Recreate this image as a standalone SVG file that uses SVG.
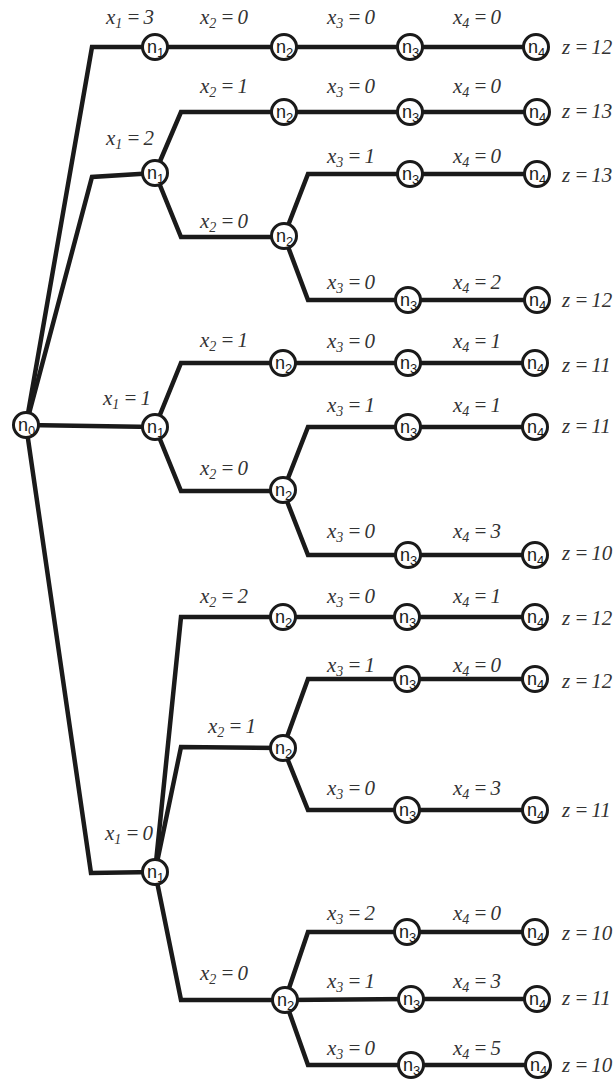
<svg xmlns="http://www.w3.org/2000/svg" width="616" height="1079" viewBox="0 0 616 1079">
<style>
.e{fill:none;stroke:#1a1a1a;stroke-width:4.5;stroke-linejoin:miter}
.n circle{fill:#fff;stroke:#1a1a1a;stroke-width:3}
.n text{font-family:"Liberation Sans",Arial,sans-serif;font-size:18px;fill:#1a1a1a}
.n tspan{font-size:13px}
.l{font-family:"Liberation Serif","DejaVu Serif",serif;font-style:italic;font-size:21px;fill:#333}
.s{font-size:14px}
</style>
<rect width="616" height="1079" fill="#fff"/>
<g id="connectors">
<path class="e" d="M26 425 L92 47 L155 47"/>
<path class="e" d="M26 425 L92 177 L155 173"/>
<path class="e" d="M26 425 L155 427"/>
<path class="e" d="M26 425 L91 873 L155 872"/>
<path class="e" d="M155 47 L284 47"/>
<path class="e" d="M284 47 L410 47"/>
<path class="e" d="M410 47 L536 47"/>
<path class="e" d="M155 173 L181 112 L284 112"/>
<path class="e" d="M155 173 L181 237 L284 237"/>
<path class="e" d="M284 112 L410 112"/>
<path class="e" d="M410 112 L537 112"/>
<path class="e" d="M284 236 L308 174 L410 174"/>
<path class="e" d="M410 174 L537 174"/>
<path class="e" d="M284 236 L308 300 L408 300"/>
<path class="e" d="M408 300 L537 300"/>
<path class="e" d="M155 427 L181 363 L283 363"/>
<path class="e" d="M283 363 L408 363"/>
<path class="e" d="M408 363 L535 363"/>
<path class="e" d="M155 427 L181 491 L283 491"/>
<path class="e" d="M283 491 L308 427 L408 427"/>
<path class="e" d="M408 427 L535 427"/>
<path class="e" d="M283 491 L308 555 L408 555"/>
<path class="e" d="M408 555 L535 555"/>
<path class="e" d="M155 872 L181 617 L283 617"/>
<path class="e" d="M283 617 L407 617"/>
<path class="e" d="M407 617 L535 617"/>
<path class="e" d="M155 872 L181 747 L283 748"/>
<path class="e" d="M283 748 L308 679 L407 679"/>
<path class="e" d="M407 679 L535 679"/>
<path class="e" d="M283 748 L308 810 L407 810"/>
<path class="e" d="M407 810 L535 810"/>
<path class="e" d="M155 872 L181 1000 L285 1000"/>
<path class="e" d="M285 1000 L308 932 L407 932"/>
<path class="e" d="M407 932 L535 932"/>
<path class="e" d="M285 1000 L411 999"/>
<path class="e" d="M411 999 L537 999"/>
<path class="e" d="M285 1000 L308 1065 L411 1065"/>
<path class="e" d="M411 1065 L538 1065"/>
</g>
<g id="labels">
<text class="l" x="106" y="24">x<tspan class="s" dy="4">1</tspan><tspan dy="-4" dx="4">=</tspan><tspan dx="3">3</tspan></text>
<text class="l" x="200" y="24">x<tspan class="s" dy="4">2</tspan><tspan dy="-4" dx="4">=</tspan><tspan dx="3">0</tspan></text>
<text class="l" x="327" y="24">x<tspan class="s" dy="4">3</tspan><tspan dy="-4" dx="4">=</tspan><tspan dx="3">0</tspan></text>
<text class="l" x="453" y="24">x<tspan class="s" dy="4">4</tspan><tspan dy="-4" dx="4">=</tspan><tspan dx="3">0</tspan></text>
<text class="l" x="562" y="54">z<tspan dx="4">=</tspan><tspan dx="3">12</tspan></text>
<text class="l" x="106" y="145">x<tspan class="s" dy="4">1</tspan><tspan dy="-4" dx="4">=</tspan><tspan dx="3">2</tspan></text>
<text class="l" x="200" y="93">x<tspan class="s" dy="4">2</tspan><tspan dy="-4" dx="4">=</tspan><tspan dx="3">1</tspan></text>
<text class="l" x="327" y="93">x<tspan class="s" dy="4">3</tspan><tspan dy="-4" dx="4">=</tspan><tspan dx="3">0</tspan></text>
<text class="l" x="453" y="93">x<tspan class="s" dy="4">4</tspan><tspan dy="-4" dx="4">=</tspan><tspan dx="3">0</tspan></text>
<text class="l" x="562" y="118">z<tspan dx="4">=</tspan><tspan dx="3">13</tspan></text>
<text class="l" x="327" y="163">x<tspan class="s" dy="4">3</tspan><tspan dy="-4" dx="4">=</tspan><tspan dx="3">1</tspan></text>
<text class="l" x="453" y="163">x<tspan class="s" dy="4">4</tspan><tspan dy="-4" dx="4">=</tspan><tspan dx="3">0</tspan></text>
<text class="l" x="562" y="182">z<tspan dx="4">=</tspan><tspan dx="3">13</tspan></text>
<text class="l" x="200" y="228">x<tspan class="s" dy="4">2</tspan><tspan dy="-4" dx="4">=</tspan><tspan dx="3">0</tspan></text>
<text class="l" x="327" y="289">x<tspan class="s" dy="4">3</tspan><tspan dy="-4" dx="4">=</tspan><tspan dx="3">0</tspan></text>
<text class="l" x="453" y="289">x<tspan class="s" dy="4">4</tspan><tspan dy="-4" dx="4">=</tspan><tspan dx="3">2</tspan></text>
<text class="l" x="562" y="307">z<tspan dx="4">=</tspan><tspan dx="3">12</tspan></text>
<text class="l" x="200" y="347">x<tspan class="s" dy="4">2</tspan><tspan dy="-4" dx="4">=</tspan><tspan dx="3">1</tspan></text>
<text class="l" x="103" y="405">x<tspan class="s" dy="4">1</tspan><tspan dy="-4" dx="4">=</tspan><tspan dx="3">1</tspan></text>
<text class="l" x="327" y="348">x<tspan class="s" dy="4">3</tspan><tspan dy="-4" dx="4">=</tspan><tspan dx="3">0</tspan></text>
<text class="l" x="453" y="348">x<tspan class="s" dy="4">4</tspan><tspan dy="-4" dx="4">=</tspan><tspan dx="3">1</tspan></text>
<text class="l" x="562" y="372">z<tspan dx="4">=</tspan><tspan dx="3">11</tspan></text>
<text class="l" x="327" y="412">x<tspan class="s" dy="4">3</tspan><tspan dy="-4" dx="4">=</tspan><tspan dx="3">1</tspan></text>
<text class="l" x="453" y="412">x<tspan class="s" dy="4">4</tspan><tspan dy="-4" dx="4">=</tspan><tspan dx="3">1</tspan></text>
<text class="l" x="562" y="433">z<tspan dx="4">=</tspan><tspan dx="3">11</tspan></text>
<text class="l" x="200" y="475">x<tspan class="s" dy="4">2</tspan><tspan dy="-4" dx="4">=</tspan><tspan dx="3">0</tspan></text>
<text class="l" x="327" y="538">x<tspan class="s" dy="4">3</tspan><tspan dy="-4" dx="4">=</tspan><tspan dx="3">0</tspan></text>
<text class="l" x="453" y="538">x<tspan class="s" dy="4">4</tspan><tspan dy="-4" dx="4">=</tspan><tspan dx="3">3</tspan></text>
<text class="l" x="562" y="560">z<tspan dx="4">=</tspan><tspan dx="3">10</tspan></text>
<text class="l" x="200" y="603">x<tspan class="s" dy="4">2</tspan><tspan dy="-4" dx="4">=</tspan><tspan dx="3">2</tspan></text>
<text class="l" x="327" y="603">x<tspan class="s" dy="4">3</tspan><tspan dy="-4" dx="4">=</tspan><tspan dx="3">0</tspan></text>
<text class="l" x="453" y="603">x<tspan class="s" dy="4">4</tspan><tspan dy="-4" dx="4">=</tspan><tspan dx="3">1</tspan></text>
<text class="l" x="562" y="625">z<tspan dx="4">=</tspan><tspan dx="3">12</tspan></text>
<text class="l" x="327" y="672">x<tspan class="s" dy="4">3</tspan><tspan dy="-4" dx="4">=</tspan><tspan dx="3">1</tspan></text>
<text class="l" x="453" y="672">x<tspan class="s" dy="4">4</tspan><tspan dy="-4" dx="4">=</tspan><tspan dx="3">0</tspan></text>
<text class="l" x="562" y="688">z<tspan dx="4">=</tspan><tspan dx="3">12</tspan></text>
<text class="l" x="208" y="733">x<tspan class="s" dy="4">2</tspan><tspan dy="-4" dx="4">=</tspan><tspan dx="3">1</tspan></text>
<text class="l" x="327" y="795">x<tspan class="s" dy="4">3</tspan><tspan dy="-4" dx="4">=</tspan><tspan dx="3">0</tspan></text>
<text class="l" x="453" y="795">x<tspan class="s" dy="4">4</tspan><tspan dy="-4" dx="4">=</tspan><tspan dx="3">3</tspan></text>
<text class="l" x="562" y="817">z<tspan dx="4">=</tspan><tspan dx="3">11</tspan></text>
<text class="l" x="105" y="840">x<tspan class="s" dy="4">1</tspan><tspan dy="-4" dx="4">=</tspan><tspan dx="3">0</tspan></text>
<text class="l" x="327" y="920">x<tspan class="s" dy="4">3</tspan><tspan dy="-4" dx="4">=</tspan><tspan dx="3">2</tspan></text>
<text class="l" x="453" y="920">x<tspan class="s" dy="4">4</tspan><tspan dy="-4" dx="4">=</tspan><tspan dx="3">0</tspan></text>
<text class="l" x="562" y="940">z<tspan dx="4">=</tspan><tspan dx="3">10</tspan></text>
<text class="l" x="200" y="980">x<tspan class="s" dy="4">2</tspan><tspan dy="-4" dx="4">=</tspan><tspan dx="3">0</tspan></text>
<text class="l" x="327" y="988">x<tspan class="s" dy="4">3</tspan><tspan dy="-4" dx="4">=</tspan><tspan dx="3">1</tspan></text>
<text class="l" x="453" y="988">x<tspan class="s" dy="4">4</tspan><tspan dy="-4" dx="4">=</tspan><tspan dx="3">3</tspan></text>
<text class="l" x="562" y="1005">z<tspan dx="4">=</tspan><tspan dx="3">11</tspan></text>
<text class="l" x="327" y="1055">x<tspan class="s" dy="4">3</tspan><tspan dy="-4" dx="4">=</tspan><tspan dx="3">0</tspan></text>
<text class="l" x="453" y="1055">x<tspan class="s" dy="4">4</tspan><tspan dy="-4" dx="4">=</tspan><tspan dx="3">5</tspan></text>
<text class="l" x="562" y="1072">z<tspan dx="4">=</tspan><tspan dx="3">10</tspan></text>
</g>
<g id="n0" class="n"><circle cx="26" cy="425" r="12.5"/><text x="18" y="431">n<tspan dy="4">0</tspan></text></g>
<g id="n1a" class="n"><circle cx="155" cy="47" r="12.5"/><text x="147" y="53">n<tspan dy="4">1</tspan></text></g>
<g id="n1b" class="n"><circle cx="155" cy="173" r="12.5"/><text x="147" y="179">n<tspan dy="4">1</tspan></text></g>
<g id="n1c" class="n"><circle cx="155" cy="427" r="12.5"/><text x="147" y="433">n<tspan dy="4">1</tspan></text></g>
<g id="n1d" class="n"><circle cx="155" cy="872" r="12.5"/><text x="147" y="878">n<tspan dy="4">1</tspan></text></g>
<g id="n2a" class="n"><circle cx="284" cy="47" r="12.5"/><text x="276" y="53">n<tspan dy="4">2</tspan></text></g>
<g id="n2b" class="n"><circle cx="284" cy="112" r="12.5"/><text x="276" y="118">n<tspan dy="4">2</tspan></text></g>
<g id="n2c" class="n"><circle cx="284" cy="236" r="12.5"/><text x="276" y="242">n<tspan dy="4">2</tspan></text></g>
<g id="n2d" class="n"><circle cx="283" cy="363" r="12.5"/><text x="275" y="369">n<tspan dy="4">2</tspan></text></g>
<g id="n2e" class="n"><circle cx="283" cy="490" r="12.5"/><text x="275" y="496">n<tspan dy="4">2</tspan></text></g>
<g id="n2f" class="n"><circle cx="283" cy="617" r="12.5"/><text x="275" y="623">n<tspan dy="4">2</tspan></text></g>
<g id="n2g" class="n"><circle cx="283" cy="748" r="12.5"/><text x="275" y="754">n<tspan dy="4">2</tspan></text></g>
<g id="n2h" class="n"><circle cx="285" cy="1000" r="12.5"/><text x="277" y="1006">n<tspan dy="4">2</tspan></text></g>
<g id="n3r1" class="n"><circle cx="410" cy="47" r="12.5"/><text x="402" y="53">n<tspan dy="4">3</tspan></text></g>
<g id="n3r2" class="n"><circle cx="410" cy="112" r="12.5"/><text x="402" y="118">n<tspan dy="4">3</tspan></text></g>
<g id="n3r3" class="n"><circle cx="410" cy="174" r="12.5"/><text x="402" y="180">n<tspan dy="4">3</tspan></text></g>
<g id="n3r4" class="n"><circle cx="408" cy="300" r="12.5"/><text x="400" y="306">n<tspan dy="4">3</tspan></text></g>
<g id="n3r5" class="n"><circle cx="408" cy="363" r="12.5"/><text x="400" y="369">n<tspan dy="4">3</tspan></text></g>
<g id="n3r6" class="n"><circle cx="408" cy="427" r="12.5"/><text x="400" y="433">n<tspan dy="4">3</tspan></text></g>
<g id="n3r7" class="n"><circle cx="408" cy="555" r="12.5"/><text x="400" y="561">n<tspan dy="4">3</tspan></text></g>
<g id="n3r8" class="n"><circle cx="407" cy="617" r="12.5"/><text x="399" y="623">n<tspan dy="4">3</tspan></text></g>
<g id="n3r9" class="n"><circle cx="407" cy="679" r="12.5"/><text x="399" y="685">n<tspan dy="4">3</tspan></text></g>
<g id="n3r10" class="n"><circle cx="407" cy="810" r="12.5"/><text x="399" y="816">n<tspan dy="4">3</tspan></text></g>
<g id="n3r11" class="n"><circle cx="407" cy="932" r="12.5"/><text x="399" y="938">n<tspan dy="4">3</tspan></text></g>
<g id="n3r12" class="n"><circle cx="411" cy="999" r="12.5"/><text x="403" y="1005">n<tspan dy="4">3</tspan></text></g>
<g id="n3r13" class="n"><circle cx="411" cy="1065" r="12.5"/><text x="403" y="1071">n<tspan dy="4">3</tspan></text></g>
<g id="n4r1" class="n"><circle cx="536" cy="47" r="12.5"/><text x="528" y="53">n<tspan dy="4">4</tspan></text></g>
<g id="n4r2" class="n"><circle cx="537" cy="112" r="12.5"/><text x="529" y="118">n<tspan dy="4">4</tspan></text></g>
<g id="n4r3" class="n"><circle cx="537" cy="174" r="12.5"/><text x="529" y="180">n<tspan dy="4">4</tspan></text></g>
<g id="n4r4" class="n"><circle cx="537" cy="300" r="12.5"/><text x="529" y="306">n<tspan dy="4">4</tspan></text></g>
<g id="n4r5" class="n"><circle cx="535" cy="363" r="12.5"/><text x="527" y="369">n<tspan dy="4">4</tspan></text></g>
<g id="n4r6" class="n"><circle cx="535" cy="427" r="12.5"/><text x="527" y="433">n<tspan dy="4">4</tspan></text></g>
<g id="n4r7" class="n"><circle cx="535" cy="555" r="12.5"/><text x="527" y="561">n<tspan dy="4">4</tspan></text></g>
<g id="n4r8" class="n"><circle cx="535" cy="617" r="12.5"/><text x="527" y="623">n<tspan dy="4">4</tspan></text></g>
<g id="n4r9" class="n"><circle cx="535" cy="679" r="12.5"/><text x="527" y="685">n<tspan dy="4">4</tspan></text></g>
<g id="n4r10" class="n"><circle cx="535" cy="810" r="12.5"/><text x="527" y="816">n<tspan dy="4">4</tspan></text></g>
<g id="n4r11" class="n"><circle cx="535" cy="932" r="12.5"/><text x="527" y="938">n<tspan dy="4">4</tspan></text></g>
<g id="n4r12" class="n"><circle cx="537" cy="999" r="12.5"/><text x="529" y="1005">n<tspan dy="4">4</tspan></text></g>
<g id="n4r13" class="n"><circle cx="538" cy="1065" r="12.5"/><text x="530" y="1071">n<tspan dy="4">4</tspan></text></g>
</svg>
